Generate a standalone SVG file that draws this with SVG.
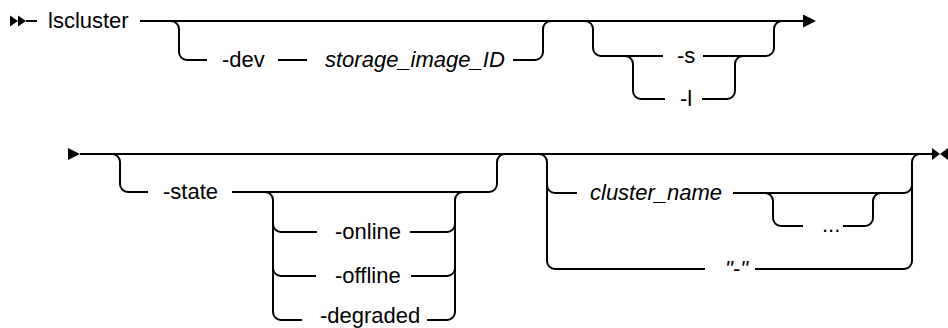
<svg xmlns="http://www.w3.org/2000/svg" width="948" height="328" viewBox="0 0 948 328">
<style>
.ln{fill:none;stroke:#000;stroke-width:2}
.t{font-family:"Liberation Sans",Arial,sans-serif;font-size:22px;fill:#000}
.v{font-style:italic}
.mk{fill:#000;stroke:none}
</style>
<rect width="948" height="328" fill="#fff"/>
<g id="connectors">
  <path class="ln" d="M26 21 H37"/>
  <path class="ln" d="M140 21 H804"/>
  <path class="ln" d="M171 21 a8 8 0 0 1 8 8 V52 a8 8 0 0 0 8 8 H207"/>
  <path class="ln" d="M278 60 H307"/>
  <path class="ln" d="M513 60 H535 a8 8 0 0 0 8 -8 V29 a8 8 0 0 1 8 -8"/>
  <path class="ln" d="M585 21 a8 8 0 0 1 8 8 V48 a8 8 0 0 0 8 8 H663"/>
  <path class="ln" d="M625 56 a8 8 0 0 1 8 8 V91 a8 8 0 0 0 8 8 H665"/>
  <path class="ln" d="M703 56 H766 a8 8 0 0 0 8 -8 V29 a8 8 0 0 1 8 -8"/>
  <path class="ln" d="M702 99 H727 a8 8 0 0 0 8 -8 V64 a8 8 0 0 1 8 -8"/>
  <path class="ln" d="M80 154 H933"/>
  <path class="ln" d="M112 154 a8 8 0 0 1 8 8 V184 a8 8 0 0 0 8 8 H148"/>
  <path class="ln" d="M232 192 H489 a8 8 0 0 0 8 -8 V162 a8 8 0 0 1 8 -8"/>
  <path class="ln" d="M265 192 a8 8 0 0 1 8 8 V312 a8 8 0 0 0 8 8 H302"/>
  <path class="ln" d="M273 224 a8 8 0 0 0 8 8 H317"/>
  <path class="ln" d="M273 268 a8 8 0 0 0 8 8 H316"/>
  <path class="ln" d="M410 232 H447 a8 8 0 0 0 8 -8"/>
  <path class="ln" d="M411 276 H447 a8 8 0 0 0 8 -8"/>
  <path class="ln" d="M427 320 H447 a8 8 0 0 0 8 -8 V200 a8 8 0 0 1 8 -8"/>
  <path class="ln" d="M539 154 a8 8 0 0 1 8 8 V261 a8 8 0 0 0 8 8 H705"/>
  <path class="ln" d="M547 185 a8 8 0 0 0 8 8 H577"/>
  <path class="ln" d="M733 193 H904 a8 8 0 0 0 8 -8 V162 a8 8 0 0 1 8 -8"/>
  <path class="ln" d="M755 269 H904 a8 8 0 0 0 8 -8 V185"/>
  <path class="ln" d="M765 193 a8 8 0 0 1 8 8 V218 a8 8 0 0 0 8 8 H803"/>
  <path class="ln" d="M843 226 H865 a8 8 0 0 0 8 -8 V201 a8 8 0 0 1 8 -8"/>
</g>
<g id="start">
  <polygon class="mk" points="10,15.5 18,21 10,26.5"/>
  <polygon class="mk" points="18,15.5 26,21 18,26.5"/>
</g>
<g id="arrow-row1"><polygon class="mk" points="803,14.5 816,21 803,27.5"/></g>
<g id="arrow-row2"><polygon class="mk" points="68,148 80,154 68,160"/></g>
<g id="end">
  <polygon class="mk" points="932,148 940,154 932,160"/>
  <polygon class="mk" points="948,148 940,154 948,160"/>
</g>
<g id="lscluster"><text class="t" x="48" y="28">lscluster</text></g>
<g id="dev"><text class="t" x="222" y="67">-dev</text></g>
<g id="storage_image_ID"><text class="t v" x="325" y="67">storage_image_ID</text></g>
<g id="s"><text class="t" x="677" y="63">-s</text></g>
<g id="l"><text class="t" x="680" y="106">-l</text></g>
<g id="state"><text class="t" x="163" y="199">-state</text></g>
<g id="online"><text class="t" x="335" y="239">-online</text></g>
<g id="offline"><text class="t" x="335" y="283">-offline</text></g>
<g id="degraded"><text class="t" x="320" y="323">-degraded</text></g>
<g id="cluster_name"><text class="t v" x="590" y="200">cluster_name</text></g>
<g id="repeat"><text class="t" x="822" y="232">...</text></g>
<g id="dash"><text class="t v" x="725" y="276">"-"</text></g>
</svg>
